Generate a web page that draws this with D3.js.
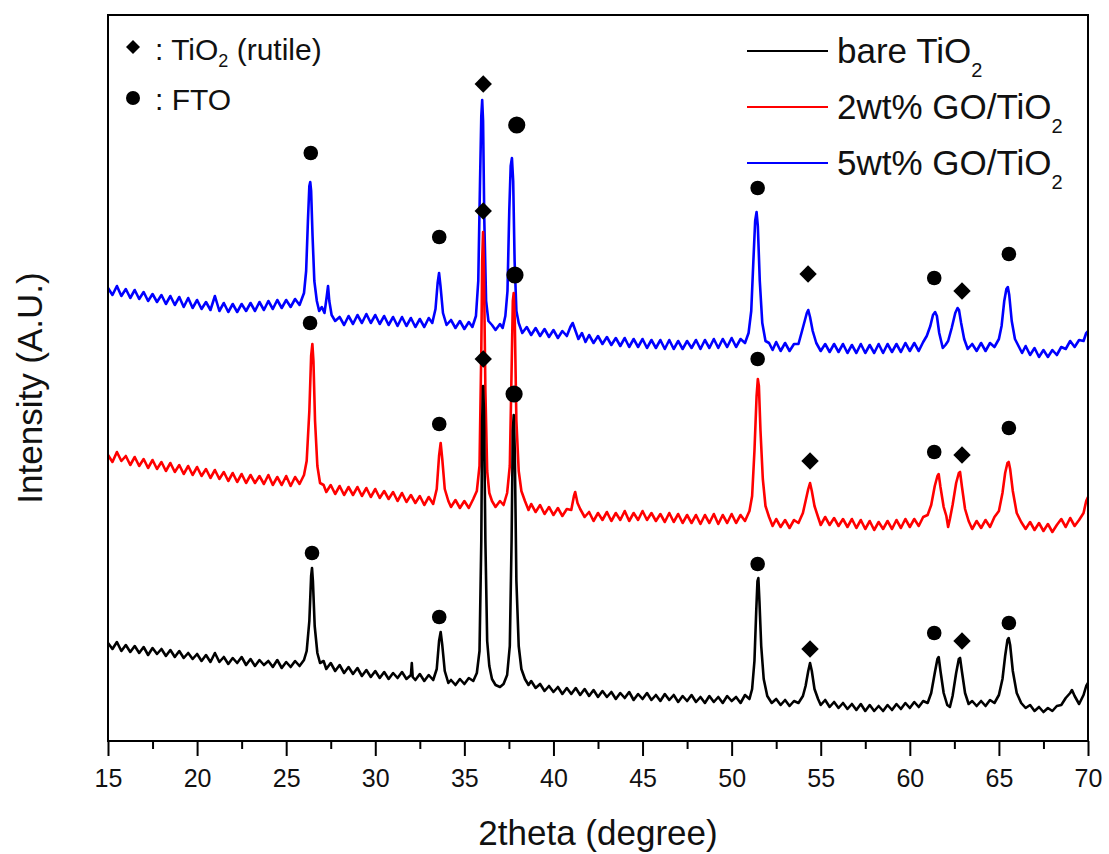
<!DOCTYPE html>
<html>
<head>
  <meta charset="utf-8">
  <title>XRD patterns</title>
  <style>
  body { margin: 0; background: #fff; }
  svg { display: block; font-family: "Liberation Sans", Arial, sans-serif; }
  .frame { fill: none; stroke: #000; stroke-width: 2px; }
  .x-axis path { display: none; }
  .x-axis line { stroke: #000; stroke-width: 2px; }
  .x-axis text { font-size: 25px; fill: #111; }
  .title { font-size: 35px; fill: #111; }
  .legend-text { font-size: 35px; fill: #111; }
  .note-text { font-size: 30px; fill: #111; }
  .pattern { fill: none; stroke-width: 2.6px; stroke-linejoin: round; }
  </style>
</head>
<body>
  <div id="chart"></div>
  <script src="https://cdn.jsdelivr.net/npm/d3@7/dist/d3.min.js"></script>
  <script>
  //x ticks and series names
  var xTicks = [15, 20, 25, 30, 35, 40, 45, 50, 55, 60, 65, 70];
  var xMinorTicks = [17.5, 22.5, 27.5, 32.5, 37.5, 42.5, 47.5, 52.5, 57.5, 62.5, 67.5];
  var seriesNames = ["bare TiO", "2wt% GO/TiO", "5wt% GO/TiO"];
  var seriesColors = ["#000000", "#ff0000", "#0000ff"];

  //[2theta, intensity (a.u., offset stacked)]
  var bareTiO2 = [
    [15.00,98],[15.25,92],[15.50,99],[15.75,90],[16.00,96],[16.25,89],[16.50,95],[16.75,88],[17.00,94],[17.25,86],
    [17.50,93],[17.75,87],[18.00,92],[18.25,85],[18.50,91],[18.75,84],[19.00,90],[19.25,83],[19.50,88],[19.75,82],
    [20.00,87],[20.25,80],[20.50,86],[20.75,79],[21.00,88],[21.25,79],[21.50,84],[21.75,77],[22.00,83],[22.25,78],
    [22.50,84],[22.75,76],[23.00,82],[23.25,75],[23.50,81],[23.75,76],[24.00,80],[24.25,74],[24.50,81],[24.75,73],
    [25.00,79],[25.25,74],[25.50,80],[25.75,75],[26.00,81],[26.15,90],[26.30,120],[26.40,165],[26.45,173],[26.50,160],
    [26.60,115],[26.75,88],[26.90,78],[27.10,80],[27.25,72],[27.50,78],[27.75,70],[28.00,76],[28.25,68],[28.50,74],
    [28.75,67],[29.00,73],[29.25,65],[29.50,71],[29.75,64],[30.00,70],[30.25,63],[30.50,69],[30.75,62],[31.00,68],
    [31.25,63],[31.50,69],[31.75,62],[32.00,66],[32.05,78],[32.10,64],[32.25,61],[32.50,67],[32.75,60],[33.00,66],
    [33.25,61],[33.45,72],[33.58,100],[33.67,109],[33.76,96],[33.90,70],[34.10,58],[34.25,61],[34.50,56],[34.75,62],
    [35.00,57],[35.25,63],[35.50,60],[35.70,68],[35.85,90],[35.95,200],[36.00,320],[36.05,355],[36.10,330],[36.18,200],
    [36.28,100],[36.40,75],[36.55,62],[36.75,56],[37.00,54],[37.20,57],[37.40,66],[37.55,95],[37.65,200],[37.72,310],
    [37.77,326],[37.83,290],[37.92,160],[38.05,95],[38.20,72],[38.40,62],[38.60,56],[38.75,60],[39.00,53],[39.25,57],
    [39.50,50],[39.75,55],[40.00,49],[40.25,54],[40.50,47],[40.75,53],[41.00,47],[41.25,53],[41.50,46],[41.75,52],
    [42.00,45],[42.25,51],[42.50,44],[42.75,50],[43.00,44],[43.25,49],[43.50,42],[43.75,48],[44.00,43],[44.25,49],
    [44.50,41],[44.75,47],[45.00,42],[45.25,48],[45.50,41],[45.75,46],[46.00,40],[46.25,47],[46.50,41],[46.75,46],
    [47.00,39],[47.25,45],[47.50,40],[47.75,46],[48.00,39],[48.25,44],[48.50,38],[48.75,45],[49.00,39],[49.25,44],
    [49.50,38],[49.75,45],[50.00,40],[50.25,44],[50.50,38],[50.75,46],[51.00,42],[51.15,52],[51.28,80],[51.38,130],
    [51.45,160],[51.50,163],[51.56,140],[51.66,95],[51.80,62],[52.00,45],[52.25,38],[52.50,42],[52.75,36],[53.00,41],
    [53.25,35],[53.50,40],[53.75,38],[54.00,45],[54.15,55],[54.30,70],[54.40,78],[54.50,70],[54.65,52],[54.85,42],
    [55.00,36],[55.25,41],[55.50,34],[55.75,39],[56.00,33],[56.25,38],[56.50,32],[56.75,37],[57.00,31],[57.25,37],
    [57.50,30],[57.75,36],[58.00,30],[58.25,35],[58.50,30],[58.75,36],[59.00,31],[59.25,37],[59.50,32],[59.75,38],
    [60.00,33],[60.25,39],[60.50,34],[60.75,40],[61.00,38],[61.20,48],[61.40,68],[61.55,82],[61.62,84],[61.72,70],
    [61.90,48],[62.10,36],[62.25,34],[62.40,45],[62.60,68],[62.75,82],[62.82,83],[62.92,70],[63.10,48],[63.30,37],
    [63.50,40],[63.75,35],[64.00,40],[64.25,35],[64.50,41],[64.75,38],[65.00,46],[65.20,62],[65.35,85],[65.48,101],
    [65.55,103],[65.63,96],[65.78,70],[66.00,48],[66.25,38],[66.50,33],[66.75,36],[67.00,30],[67.25,34],[67.50,29],
    [67.75,33],[68.00,30],[68.25,35],[68.50,36],[68.75,43],[69.00,48],[69.10,51],[69.25,45],[69.50,37],[69.75,46],
    [69.90,55],[70.00,58]
  ];

  var go2TiO2 = [
    [15.00,286],[15.25,279],[15.50,289],[15.75,280],[16.00,285],[16.25,276],[16.50,284],[16.75,275],[17.00,282],[17.25,273],
    [17.50,281],[17.75,272],[18.00,279],[18.25,270],[18.50,278],[18.75,269],[19.00,276],[19.25,267],[19.50,275],[19.75,266],
    [20.00,274],[20.25,265],[20.50,272],[20.75,263],[21.00,271],[21.25,262],[21.50,269],[21.75,260],[22.00,268],[22.25,259],
    [22.50,267],[22.75,258],[23.00,266],[23.25,258],[23.50,265],[23.75,257],[24.00,266],[24.25,256],[24.50,264],[24.75,256],
    [25.00,265],[25.25,255],[25.50,264],[25.75,257],[26.00,266],[26.15,280],[26.30,330],[26.40,385],[26.47,397],[26.53,380],
    [26.62,320],[26.75,275],[26.90,258],[27.10,256],[27.25,249],[27.50,256],[27.75,247],[28.00,255],[28.25,246],[28.50,254],
    [28.75,246],[29.00,254],[29.25,245],[29.50,253],[29.75,244],[30.00,252],[30.25,243],[30.50,250],[30.75,242],[31.00,249],
    [31.25,240],[31.50,248],[31.75,239],[32.00,246],[32.25,238],[32.50,245],[32.75,236],[33.00,244],[33.25,237],[33.45,252],
    [33.58,285],[33.67,298],[33.76,282],[33.90,252],[34.10,240],[34.25,234],[34.50,241],[34.75,233],[35.00,240],[35.25,233],
    [35.50,242],[35.70,250],[35.85,275],[35.95,390],[36.00,480],[36.05,509],[36.10,470],[36.18,350],[36.28,270],[36.40,248],
    [36.55,240],[36.75,234],[37.00,240],[37.20,236],[37.40,248],[37.55,275],[37.65,370],[37.72,440],[37.77,448],[37.83,420],
    [37.92,320],[38.05,270],[38.20,250],[38.40,240],[38.60,231],[38.75,237],[39.00,229],[39.25,236],[39.50,227],[39.75,234],
    [40.00,226],[40.25,233],[40.50,225],[40.75,232],[41.00,231],[41.15,245],[41.22,249],[41.35,238],[41.50,232],[41.75,224],
    [42.00,229],[42.25,220],[42.50,228],[42.75,221],[43.00,229],[43.25,220],[43.50,228],[43.75,221],[44.00,230],[44.25,220],
    [44.50,228],[44.75,221],[45.00,230],[45.25,221],[45.50,228],[45.75,220],[46.00,227],[46.25,219],[46.50,228],[46.75,219],
    [47.00,227],[47.25,218],[47.50,226],[47.75,218],[48.00,226],[48.25,217],[48.50,226],[48.75,218],[49.00,227],[49.25,217],
    [49.50,226],[49.75,218],[50.00,227],[50.25,218],[50.50,226],[50.75,220],[51.00,230],[51.15,245],[51.28,290],[51.40,345],
    [51.47,362],[51.53,355],[51.62,310],[51.75,262],[51.90,235],[52.10,224],[52.30,215],[52.50,222],[52.75,214],[53.00,221],
    [53.25,213],[53.50,221],[53.75,218],[54.00,228],[54.15,240],[54.30,252],[54.40,258],[54.50,250],[54.65,235],[54.85,224],
    [55.00,216],[55.25,224],[55.50,216],[55.75,223],[56.00,215],[56.25,222],[56.50,214],[56.75,222],[57.00,213],[57.25,221],
    [57.50,212],[57.75,220],[58.00,211],[58.25,219],[58.50,212],[58.75,220],[59.00,212],[59.25,221],[59.50,213],[59.75,222],
    [60.00,214],[60.25,222],[60.50,215],[60.75,224],[61.00,226],[61.20,236],[61.40,255],[61.55,265],[61.62,267],[61.72,254],
    [61.90,234],[62.05,225],[62.15,214],[62.25,222],[62.40,236],[62.60,258],[62.75,268],[62.82,269],[62.92,255],[63.10,232],
    [63.30,220],[63.50,212],[63.75,220],[64.00,213],[64.25,221],[64.50,214],[64.75,224],[65.00,230],[65.20,248],[65.35,268],
    [65.48,278],[65.55,279],[65.63,272],[65.78,250],[66.00,228],[66.25,219],[66.50,212],[66.75,219],[67.00,211],[67.25,218],
    [67.50,210],[67.75,217],[68.00,209],[68.25,216],[68.50,222],[68.75,214],[69.00,223],[69.25,215],[69.50,221],[69.75,228],
    [69.90,240],[70.00,244]
  ];

  var go5TiO2 = [
    [15.00,453],[15.25,446],[15.50,455],[15.75,445],[16.00,452],[16.25,443],[16.50,451],[16.75,442],[17.00,449],[17.25,440],
    [17.50,447],[17.75,439],[18.00,446],[18.25,437],[18.50,445],[18.75,436],[19.00,444],[19.25,434],[19.50,443],[19.75,433],
    [20.00,441],[20.25,432],[20.50,439],[20.75,431],[21.00,445],[21.25,430],[21.50,438],[21.75,429],[22.00,437],[22.25,429],
    [22.50,437],[22.75,430],[23.00,438],[23.25,430],[23.50,439],[23.75,431],[24.00,440],[24.25,432],[24.50,441],[24.75,433],
    [25.00,441],[25.25,434],[25.50,442],[25.75,436],[26.00,448],[26.12,470],[26.22,520],[26.30,555],[26.35,559],[26.40,550],
    [26.48,505],[26.58,460],[26.72,440],[26.85,430],[27.00,434],[27.15,428],[27.28,445],[27.35,455],[27.42,440],[27.55,426],
    [27.75,420],[28.00,424],[28.25,416],[28.50,425],[28.75,417],[29.00,426],[29.25,418],[29.50,427],[29.75,418],[30.00,426],
    [30.25,417],[30.50,425],[30.75,416],[31.00,424],[31.25,415],[31.50,424],[31.75,415],[32.00,423],[32.25,414],[32.50,422],
    [32.75,414],[33.00,423],[33.20,418],[33.38,432],[33.50,458],[33.58,468],[33.66,455],[33.80,428],[34.00,416],[34.25,421],
    [34.50,413],[34.75,420],[35.00,412],[35.25,419],[35.45,414],[35.65,425],[35.78,460],[35.88,560],[35.95,625],[36.00,641],
    [36.05,620],[36.12,520],[36.22,440],[36.35,420],[36.55,416],[36.75,411],[37.00,417],[37.15,413],[37.30,425],[37.42,450],
    [37.52,530],[37.60,575],[37.67,583],[37.74,560],[37.82,480],[37.92,430],[38.05,418],[38.25,408],[38.50,414],[38.75,406],
    [39.00,413],[39.25,405],[39.50,412],[39.75,404],[40.00,411],[40.25,403],[40.50,410],[40.75,405],[40.95,414],[41.08,418],
    [41.20,412],[41.40,402],[41.60,408],[41.80,399],[42.00,406],[42.25,398],[42.50,405],[42.75,397],[43.00,404],[43.25,396],
    [43.50,403],[43.75,395],[44.00,403],[44.25,394],[44.50,402],[44.75,394],[45.00,402],[45.25,393],[45.50,401],[45.75,393],
    [46.00,401],[46.25,392],[46.50,401],[46.75,392],[47.00,400],[47.25,392],[47.50,400],[47.75,393],[48.00,401],[48.25,392],
    [48.50,401],[48.75,393],[49.00,402],[49.25,393],[49.50,402],[49.75,394],[50.00,403],[50.25,394],[50.50,402],[50.75,398],
    [50.95,408],[51.10,430],[51.22,480],[51.32,520],[51.40,529],[51.47,515],[51.58,460],[51.72,418],[51.90,400],[52.10,398],
    [52.30,391],[52.50,399],[52.75,390],[53.00,398],[53.25,390],[53.50,397],[53.75,397],[53.95,410],[54.10,420],[54.22,428],
    [54.30,431],[54.40,424],[54.55,410],[54.75,398],[55.00,390],[55.25,397],[55.50,389],[55.75,397],[56.00,389],[56.25,397],
    [56.50,388],[56.75,396],[57.00,388],[57.25,397],[57.50,388],[57.75,396],[58.00,388],[58.25,397],[58.50,388],[58.75,397],
    [59.00,389],[59.25,397],[59.50,389],[59.75,398],[60.00,390],[60.25,398],[60.50,390],[60.75,399],[60.95,405],[61.15,415],
    [61.30,426],[61.42,429],[61.52,425],[61.65,408],[61.85,393],[62.00,396],[62.15,400],[62.35,413],[62.55,428],[62.68,433],
    [62.76,431],[62.88,418],[63.05,402],[63.25,392],[63.50,397],[63.75,390],[64.00,398],[64.25,390],[64.50,398],[64.75,394],
    [65.00,402],[65.15,415],[65.30,440],[65.42,452],[65.50,454],[65.58,446],[65.72,420],[65.90,402],[66.10,395],[66.30,388],
    [66.50,395],[66.75,386],[67.00,393],[67.25,384],[67.50,391],[67.75,384],[68.00,391],[68.25,386],[68.50,394],[68.75,392],
    [69.00,400],[69.25,394],[69.50,401],[69.75,400],[69.90,408],[70.00,410]
  ];

  //peak markers: [2theta, height]
  var rutileMarks = [
    [36.06,382],[54.40,92],[62.93,100],
    [36.06,530],[54.40,280],[62.93,286],
    [36.06,657],[54.29,467],[62.93,450]
  ];
  var ftoMarks = [
    [26.45,188],[33.59,124],[37.79,347],[51.46,177],[61.37,108],[65.56,118],
    [26.34,418],[33.59,317],[37.84,466],[51.46,382],[61.37,289],[65.56,313],
    [26.38,588],[33.59,504],[37.94,616],[51.46,553],[61.37,463],[65.56,487]
  ];

  //dimensions
  var W = 1109, H = 854;
  var margin = {left: 108, top: 15, right: 21, bottom: 113};
  var width = W - margin.left - margin.right;
  var height = H - margin.top - margin.bottom;

  var svg = d3.select("#chart").append("svg")
    .attr("width", W)
    .attr("height", H);

  var g = svg.append("g")
    .attr("transform", "translate(" + margin.left + "," + margin.top + ")");

  var x = d3.scaleLinear().domain([15, 70]).range([0, width]);
  var y = d3.scaleLinear().domain([0, 726]).range([height, 0]);

  var line = d3.line()
    .x(function(d) { return x(d[0]); })
    .y(function(d) { return y(d[1]); });

  //draw patterns, blue first so black ends on top
  var allSeries = [bareTiO2, go2TiO2, go5TiO2];
  [2, 1, 0].forEach(function(i) {
    g.append("path")
      .datum(allSeries[i])
      .attr("class", "pattern")
      .attr("stroke", seriesColors[i])
      .attr("d", line);
  });

  //minor ticks
  g.append("g")
    .attr("class", "x-axis")
    .attr("transform", "translate(0," + height + ")")
    .call(d3.axisBottom(x).tickValues(xMinorTicks).tickSize(8).tickFormat(""));

  //major ticks + labels
  g.append("g")
    .attr("class", "x-axis")
    .attr("transform", "translate(0," + height + ")")
    .call(d3.axisBottom(x).tickValues(xTicks).tickSize(15).tickPadding(13).tickFormat(d3.format("d")));

  //frame
  g.append("rect")
    .attr("class", "frame")
    .attr("width", width)
    .attr("height", height);

  //markers
  g.selectAll(".fto")
    .data(ftoMarks)
    .enter().append("circle")
    .attr("cx", function(d) { return x(d[0]); })
    .attr("cy", function(d) { return y(d[1]); })
    .attr("r", function(d) { return (d[0] > 37.5 && d[0] < 38.5) ? 8.6 : 7.3; })
    .attr("fill", "#000");

  g.selectAll(".rutile")
    .data(rutileMarks)
    .enter().append("path")
    .attr("transform", function(d) { return "translate(" + x(d[0]) + "," + y(d[1]) + ")"; })
    .attr("d", "M0,-8.7L8.7,0L0,8.7L-8.7,0Z")
    .attr("fill", "#000");

  //axis titles
  svg.append("text")
    .attr("class", "title")
    .attr("x", margin.left + width / 2)
    .attr("y", 845)
    .attr("text-anchor", "middle")
    .text("2theta (degree)");

  svg.append("text")
    .attr("class", "title")
    .attr("transform", "translate(42," + (margin.top + height / 2 + 10) + ") rotate(-90)")
    .attr("text-anchor", "middle")
    .text("Intensity (A.U.)");

  //marker key, top left
  var note = g.append("g").attr("transform", "translate(25,0)");
  note.append("path")
    .attr("transform", "translate(0,32)")
    .attr("d", "M0,-7L7,0L0,7L-7,0Z")
    .attr("fill", "#000");
  var t1 = note.append("text").attr("class", "note-text").attr("x", 22).attr("y", 45);
  t1.append("tspan").text(": TiO");
  t1.append("tspan").attr("dy", 7).attr("font-size", 18).text("2");
  t1.append("tspan").attr("dy", -7).text(" (rutile)");
  note.append("circle").attr("cx", 0).attr("cy", 83).attr("r", 7).attr("fill", "#000");
  note.append("text").attr("class", "note-text").attr("x", 22).attr("y", 95).text(": FTO");

  //series legend, top right
  var legend = g.selectAll(".legend")
    .data(seriesNames)
    .enter().append("g")
    .attr("transform", function(d, i) { return "translate(639," + (36 + i * 56) + ")"; });

  legend.append("line")
    .attr("x1", 0).attr("x2", 81)
    .attr("stroke", function(d, i) { return seriesColors[i]; })
    .attr("stroke-width", 2);

  var lt = legend.append("text")
    .attr("class", "legend-text")
    .attr("x", 90)
    .attr("y", 12);
  lt.append("tspan").text(function(d) { return d; });
  lt.append("tspan").attr("dy", 14).attr("font-size", 20).text("2");
  </script>
</body>
</html>
